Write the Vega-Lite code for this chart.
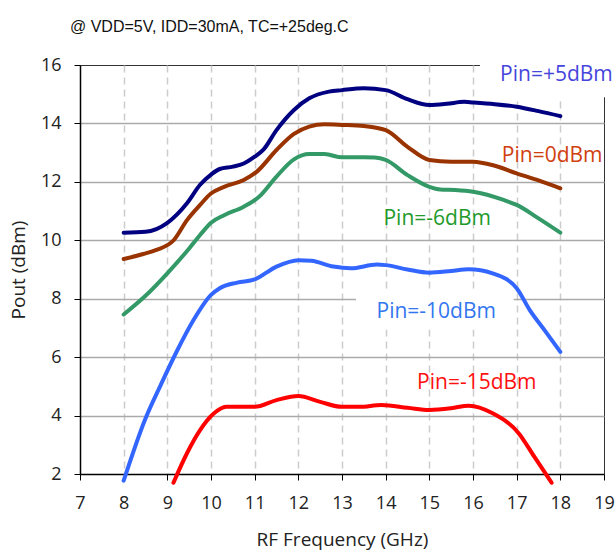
{
  "$schema": "https://vega.github.io/schema/vega-lite/v6.json",
  "width": 524,
  "height": 409,
  "autosize": {"type": "none"},
  "padding": {"left": 80, "top": 65, "right": 11, "bottom": 79},
  "background": "white",
  "title": {
    "text": "@ VDD=5V, IDD=30mA, TC=+25deg.C",
    "anchor": "start",
    "frame": "group",
    "dx": -10,
    "offset": 5,
    "baseline": "bottom",
    "font": "Liberation Sans",
    "fontSize": 16,
    "fontWeight": "normal",
    "color": "#111111"
  },
  "config": {
    "view": {"stroke": "#333333", "strokeWidth": 1},
    "font": "Open Sans"
  },
  "datasets": {
    "curves": [
      {"series": "+5dBm", "f": 8.0, "v": 10.26},
      {"series": "+5dBm", "f": 8.5, "v": 10.29},
      {"series": "+5dBm", "f": 9.0, "v": 10.6},
      {"series": "+5dBm", "f": 9.45, "v": 11.27},
      {"series": "+5dBm", "f": 9.75, "v": 11.9},
      {"series": "+5dBm", "f": 10.0, "v": 12.25},
      {"series": "+5dBm", "f": 10.2, "v": 12.44},
      {"series": "+5dBm", "f": 10.5, "v": 12.52},
      {"series": "+5dBm", "f": 10.75, "v": 12.63},
      {"series": "+5dBm", "f": 11.0, "v": 12.86},
      {"series": "+5dBm", "f": 11.2, "v": 13.1},
      {"series": "+5dBm", "f": 11.5, "v": 13.77},
      {"series": "+5dBm", "f": 11.9, "v": 14.46},
      {"series": "+5dBm", "f": 12.25, "v": 14.86},
      {"series": "+5dBm", "f": 12.7, "v": 15.09},
      {"series": "+5dBm", "f": 13.0, "v": 15.14},
      {"series": "+5dBm", "f": 13.5, "v": 15.2},
      {"series": "+5dBm", "f": 14.0, "v": 15.14},
      {"series": "+5dBm", "f": 14.5, "v": 14.83},
      {"series": "+5dBm", "f": 15.0, "v": 14.63},
      {"series": "+5dBm", "f": 15.4, "v": 14.67},
      {"series": "+5dBm", "f": 15.8, "v": 14.74},
      {"series": "+5dBm", "f": 16.0, "v": 14.72},
      {"series": "+5dBm", "f": 16.5, "v": 14.66},
      {"series": "+5dBm", "f": 17.0, "v": 14.57},
      {"series": "+5dBm", "f": 17.5, "v": 14.42},
      {"series": "+5dBm", "f": 18.0, "v": 14.25},

      {"series": "0dBm", "f": 8.0, "v": 9.36},
      {"series": "0dBm", "f": 8.45, "v": 9.53},
      {"series": "0dBm", "f": 8.75, "v": 9.67},
      {"series": "0dBm", "f": 9.15, "v": 10.01},
      {"series": "0dBm", "f": 9.45, "v": 10.69},
      {"series": "0dBm", "f": 9.75, "v": 11.21},
      {"series": "0dBm", "f": 10.0, "v": 11.6},
      {"series": "0dBm", "f": 10.3, "v": 11.83},
      {"series": "0dBm", "f": 10.75, "v": 12.06},
      {"series": "0dBm", "f": 11.05, "v": 12.35},
      {"series": "0dBm", "f": 11.5, "v": 13.09},
      {"series": "0dBm", "f": 11.9, "v": 13.64},
      {"series": "0dBm", "f": 12.25, "v": 13.89},
      {"series": "0dBm", "f": 12.6, "v": 13.97},
      {"series": "0dBm", "f": 13.0, "v": 13.95},
      {"series": "0dBm", "f": 13.5, "v": 13.91},
      {"series": "0dBm", "f": 14.0, "v": 13.77},
      {"series": "0dBm", "f": 14.5, "v": 13.2},
      {"series": "0dBm", "f": 15.0, "v": 12.75},
      {"series": "0dBm", "f": 15.5, "v": 12.69},
      {"series": "0dBm", "f": 16.0, "v": 12.69},
      {"series": "0dBm", "f": 16.5, "v": 12.55},
      {"series": "0dBm", "f": 17.0, "v": 12.29},
      {"series": "0dBm", "f": 17.5, "v": 12.05},
      {"series": "0dBm", "f": 18.0, "v": 11.78},

      {"series": "-6dBm", "f": 8.0, "v": 7.46},
      {"series": "-6dBm", "f": 8.5, "v": 8.1},
      {"series": "-6dBm", "f": 9.0, "v": 8.87},
      {"series": "-6dBm", "f": 9.5, "v": 9.72},
      {"series": "-6dBm", "f": 9.75, "v": 10.18},
      {"series": "-6dBm", "f": 10.0, "v": 10.6},
      {"series": "-6dBm", "f": 10.3, "v": 10.86},
      {"series": "-6dBm", "f": 10.75, "v": 11.15},
      {"series": "-6dBm", "f": 11.1, "v": 11.49},
      {"series": "-6dBm", "f": 11.5, "v": 12.18},
      {"series": "-6dBm", "f": 11.9, "v": 12.77},
      {"series": "-6dBm", "f": 12.25, "v": 12.95},
      {"series": "-6dBm", "f": 12.6, "v": 12.95},
      {"series": "-6dBm", "f": 13.0, "v": 12.84},
      {"series": "-6dBm", "f": 13.5, "v": 12.84},
      {"series": "-6dBm", "f": 13.75, "v": 12.83},
      {"series": "-6dBm", "f": 14.0, "v": 12.75},
      {"series": "-6dBm", "f": 14.5, "v": 12.23},
      {"series": "-6dBm", "f": 15.0, "v": 11.83},
      {"series": "-6dBm", "f": 15.25, "v": 11.74},
      {"series": "-6dBm", "f": 15.6, "v": 11.72},
      {"series": "-6dBm", "f": 16.0, "v": 11.66},
      {"series": "-6dBm", "f": 16.7, "v": 11.38},
      {"series": "-6dBm", "f": 17.0, "v": 11.21},
      {"series": "-6dBm", "f": 17.5, "v": 10.75},
      {"series": "-6dBm", "f": 18.0, "v": 10.26},

      {"series": "-10dBm", "f": 8.0, "v": 1.77},
      {"series": "-10dBm", "f": 8.5, "v": 3.9},
      {"series": "-10dBm", "f": 8.85, "v": 5.05},
      {"series": "-10dBm", "f": 9.2, "v": 6.15},
      {"series": "-10dBm", "f": 9.6, "v": 7.27},
      {"series": "-10dBm", "f": 10.0, "v": 8.13},
      {"series": "-10dBm", "f": 10.2, "v": 8.36},
      {"series": "-10dBm", "f": 10.6, "v": 8.55},
      {"series": "-10dBm", "f": 11.0, "v": 8.66},
      {"series": "-10dBm", "f": 11.5, "v": 9.1},
      {"series": "-10dBm", "f": 12.0, "v": 9.32},
      {"series": "-10dBm", "f": 12.3, "v": 9.3},
      {"series": "-10dBm", "f": 12.8, "v": 9.1},
      {"series": "-10dBm", "f": 13.2, "v": 9.04},
      {"series": "-10dBm", "f": 13.8, "v": 9.17},
      {"series": "-10dBm", "f": 14.0, "v": 9.15},
      {"series": "-10dBm", "f": 14.5, "v": 9.0},
      {"series": "-10dBm", "f": 15.0, "v": 8.89},
      {"series": "-10dBm", "f": 15.5, "v": 8.95},
      {"series": "-10dBm", "f": 15.9, "v": 9.01},
      {"series": "-10dBm", "f": 16.45, "v": 8.87},
      {"series": "-10dBm", "f": 17.0, "v": 8.36},
      {"series": "-10dBm", "f": 17.3, "v": 7.61},
      {"series": "-10dBm", "f": 17.65, "v": 6.9},
      {"series": "-10dBm", "f": 18.0, "v": 6.18},

      {"series": "-15dBm", "f": 9.14, "v": 1.7},
      {"series": "-15dBm", "f": 9.45, "v": 2.71},
      {"series": "-15dBm", "f": 9.75, "v": 3.5},
      {"series": "-15dBm", "f": 10.05, "v": 4.05},
      {"series": "-15dBm", "f": 10.35, "v": 4.3},
      {"series": "-15dBm", "f": 11.0, "v": 4.3},
      {"series": "-15dBm", "f": 11.5, "v": 4.53},
      {"series": "-15dBm", "f": 12.0, "v": 4.67},
      {"series": "-15dBm", "f": 12.5, "v": 4.47},
      {"series": "-15dBm", "f": 13.0, "v": 4.3},
      {"series": "-15dBm", "f": 13.4, "v": 4.3},
      {"series": "-15dBm", "f": 13.9, "v": 4.36},
      {"series": "-15dBm", "f": 14.5, "v": 4.27},
      {"series": "-15dBm", "f": 15.0, "v": 4.19},
      {"series": "-15dBm", "f": 15.5, "v": 4.25},
      {"series": "-15dBm", "f": 15.9, "v": 4.34},
      {"series": "-15dBm", "f": 16.45, "v": 4.08},
      {"series": "-15dBm", "f": 17.05, "v": 3.39},
      {"series": "-15dBm", "f": 17.4, "v": 2.6},
      {"series": "-15dBm", "f": 17.8, "v": 1.7}
    ],
    "labels": [
      {"series": "+5dBm", "label": "Pin=+5dBm", "f": 16.62, "v": 15.67},
      {"series": "0dBm", "label": "Pin=0dBm", "f": 16.66, "v": 12.88},
      {"series": "-6dBm", "label": "Pin=-6dBm", "f": 13.95, "v": 10.73},
      {"series": "-10dBm", "label": "Pin=-10dBm", "f": 13.79, "v": 7.53},
      {"series": "-15dBm", "label": "Pin=-15dBm", "f": 14.72, "v": 5.13}
    ],
    "boxes": [
      {"f1": 16.16, "f2": 19.3, "v1": 14.9, "v2": 16.2},
      {"f1": 13.32, "f2": 16.93, "v1": 6.95, "v2": 8.3}
    ]
  },
  "resolve": {"scale": {"color": "independent"}},
  "layer": [
    {
      "data": {"name": "boxes"},
      "mark": {"type": "rect", "fill": "white", "stroke": null},
      "encoding": {
        "x": {"field": "f1", "type": "quantitative", "scale": {"domain": [7, 19], "nice": false}},
        "x2": {"field": "f2"},
        "y": {"field": "v1", "type": "quantitative", "scale": {"domain": [2, 16], "nice": false}},
        "y2": {"field": "v2"}
      }
    },
    {
      "data": {"name": "curves"},
      "mark": {"type": "line", "strokeWidth": 4, "interpolate": "monotone", "strokeCap": "round", "strokeJoin": "round"},
      "encoding": {
        "x": {
          "field": "f",
          "type": "quantitative",
          "scale": {"domain": [7, 19], "nice": false},
          "axis": {
            "title": "RF Frequency (GHz)",
            "values": [7, 8, 9, 10, 11, 12, 13, 14, 15, 16, 17, 18, 19],
            "format": "d",
            "grid": true,
            "gridDash": [7, 5],
            "gridWidth": 1.5,
            "gridColor": {"condition": {"test": "datum.value == 7 || datum.value == 19", "value": "transparent"}, "value": "#cccccc"},
            "domainColor": "#000000",
            "domainWidth": 1.5,
            "tickColor": "#000000",
            "tickWidth": 1,
            "tickSize": 6,
            "labelFont": "Open Sans",
            "labelFontSize": 18,
            "labelColor": "#222222",
            "labelPadding": 14,
            "labelFlush": false,
            "labelOverlap": false,
            "titleFont": "Open Sans",
            "titleFontSize": 19,
            "titleFontWeight": "normal",
            "titleColor": "#222222",
            "titlePadding": 18
          }
        },
        "y": {
          "field": "v",
          "type": "quantitative",
          "scale": {"domain": [2, 16], "nice": false},
          "axis": {
            "title": "Pout (dBm)",
            "values": [2, 4, 6, 8, 10, 12, 14, 16],
            "grid": true,
            "gridWidth": 1.5,
            "gridColor": {"condition": {"test": "datum.value == 2 || datum.value == 16", "value": "transparent"}, "value": "#aaaaaa"},
            "domainColor": "#000000",
            "domainWidth": 1.5,
            "tickColor": "#000000",
            "tickSize": 6,
            "labelFont": "Open Sans",
            "labelFontSize": 18,
            "labelColor": "#222222",
            "labelPadding": 13,
            "labelFlush": false,
            "labelOverlap": false,
            "titleFont": "Open Sans",
            "titleFontSize": 19,
            "titleFontWeight": "normal",
            "titleColor": "#222222",
            "titlePadding": 12
          }
        },
        "color": {
          "field": "series",
          "type": "nominal",
          "scale": {"domain": ["+5dBm", "0dBm", "-6dBm", "-10dBm", "-15dBm"], "range": ["#000080", "#993300", "#339966", "#3366FF", "#FF0000"]},
          "legend": null
        },
        "detail": {"field": "series"}
      }
    },
    {
      "data": {"name": "labels"},
      "mark": {"type": "text", "align": "left", "baseline": "middle", "font": "Open Sans", "fontSize": 21},
      "encoding": {
        "x": {"field": "f", "type": "quantitative", "scale": {"domain": [7, 19], "nice": false}},
        "y": {"field": "v", "type": "quantitative", "scale": {"domain": [2, 16], "nice": false}},
        "text": {"field": "label"},
        "color": {
          "field": "series",
          "type": "nominal",
          "scale": {"domain": ["+5dBm", "0dBm", "-6dBm", "-10dBm", "-15dBm"], "range": ["#4646DC", "#D0400F", "#229A2A", "#3377F0", "#FF1010"]},
          "legend": null
        }
      }
    }
  ]
}
